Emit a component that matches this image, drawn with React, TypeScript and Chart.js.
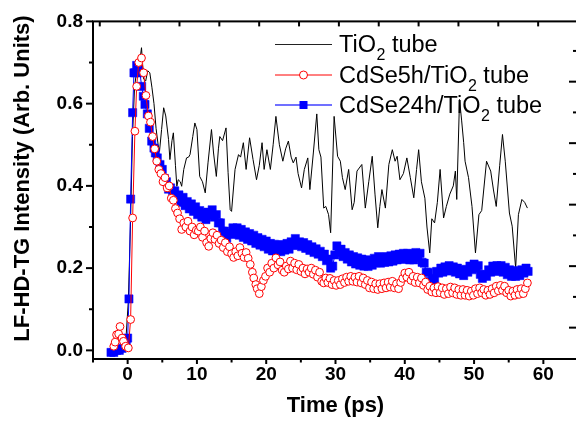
import React, { useEffect, useRef } from "react";
import { Chart, registerables } from "chart.js";

Chart.register(...registerables);

// ---------- data ----------
const tioX = [
  -2.2, -1.8, -1.4, -1.0, -0.6, -0.2, 0.1, 0.4, 0.7, 1.0, 1.3, 1.6, 1.8, 2.0, 2.3, 2.6, 2.9, 3.2, 3.5, 3.8,
  4.1, 4.4, 4.6, 4.9, 5.2, 5.5, 5.9, 6.1, 6.4, 6.6, 6.9, 7.1, 7.3, 7.6, 7.8, 8.1, 8.5, 8.8, 9.0, 9.4,
  9.7, 10.0, 10.4, 10.8, 11.2, 11.6, 12.1, 12.4, 12.8, 13.1, 13.3, 13.7, 14.2, 14.5, 14.8, 15.0, 15.5, 16.0, 16.3, 16.7,
  17.1, 17.6, 18.1, 18.6, 19.0, 19.4, 19.7, 20.1, 20.6, 21.0, 21.4, 21.9, 22.4, 22.8, 23.2, 23.6, 23.9, 24.3, 24.6, 25.1,
  25.5, 26.0, 26.3, 26.8, 27.3, 27.6, 27.9, 28.3, 28.6, 29.0, 29.3, 29.8, 30.3, 30.7, 31.0, 31.4, 31.9, 32.4, 32.7, 33.1,
  33.8, 34.3, 34.8, 35.3, 35.7, 36.1, 36.4, 36.7, 37.2, 37.7, 38.2, 38.6, 38.9, 39.3, 39.8, 40.3, 40.8, 41.3, 41.7, 42.0,
  42.4, 42.9, 43.2, 43.6, 43.9, 44.3, 44.7, 45.1, 45.6, 46.0, 46.5, 47.0, 47.3, 47.5, 47.9, 48.2, 48.5, 48.7, 49.2, 49.7,
  50.2, 50.7, 51.1, 51.8, 52.4, 52.8, 53.2, 53.7, 54.1, 54.5, 55.1, 55.5, 56.0, 56.4, 56.9, 57.3, 57.7,
];
const tioY = [
  0.0, 0.005, 0.0, 0.01, 0.02, 0.04, 0.12, 0.3, 0.52, 0.64, 0.68, 0.67, 0.71, 0.736, 0.66, 0.655, 0.68, 0.675, 0.64, 0.6,
  0.54, 0.5, 0.484, 0.537, 0.59, 0.57, 0.513, 0.464, 0.51, 0.529, 0.45, 0.399, 0.415, 0.41, 0.399, 0.44, 0.468, 0.47, 0.476, 0.52,
  0.553, 0.537, 0.423, 0.41, 0.383, 0.456, 0.537, 0.48, 0.423, 0.49, 0.52, 0.51, 0.541, 0.432, 0.342, 0.338, 0.44, 0.476, 0.47, 0.505,
  0.44, 0.517, 0.464, 0.415, 0.45, 0.505, 0.44, 0.488, 0.44, 0.5, 0.569, 0.5, 0.46, 0.49, 0.509, 0.47, 0.456, 0.47, 0.43, 0.395,
  0.44, 0.468, 0.391, 0.48, 0.575, 0.488, 0.47, 0.346, 0.35, 0.33, 0.286, 0.569, 0.472, 0.46, 0.42, 0.391, 0.44, 0.342, 0.36, 0.436,
  0.452, 0.346, 0.41, 0.472, 0.38, 0.298, 0.35, 0.391, 0.346, 0.452, 0.488, 0.46, 0.472, 0.415, 0.43, 0.468, 0.42, 0.371, 0.44, 0.488,
  0.41, 0.37, 0.3, 0.237, 0.32, 0.31, 0.36, 0.44, 0.322, 0.35, 0.38, 0.4, 0.436, 0.367, 0.61, 0.56, 0.505, 0.46, 0.42, 0.35,
  0.237, 0.33, 0.34, 0.46, 0.436, 0.39, 0.35, 0.45, 0.525, 0.46, 0.334, 0.302, 0.2, 0.33, 0.367, 0.36, 0.346,
];

const cd5X = [
  -2.0, -1.8, -1.6, -1.3, -1.1, -0.8, -0.6, -0.3, 0.1, 0.43, 0.72, 1.05, 1.3, 1.6, 2.0, 2.3, 2.64, 3.0, 3.3, 3.6,
  3.9, 4.2, 4.5, 4.8, 5.1, 5.4, 5.7, 6.0, 6.3, 6.6, 6.9, 7.2, 7.5, 7.8, 8.1, 8.4, 8.7, 9.0, 9.3, 9.6,
  9.9, 10.2, 10.5, 10.8, 11.1, 11.4, 11.7, 12.0, 12.3, 12.6, 12.9, 13.2, 13.5, 13.8, 14.1, 14.4, 14.7, 15.0, 15.3, 15.6,
  15.9, 16.2, 16.5, 16.8, 17.1, 17.4, 17.7, 18.0, 18.2, 18.5, 18.7, 19.0, 19.3, 19.6, 19.9, 20.2, 20.5, 20.8, 21.1, 21.4,
  21.7, 22.0, 22.3, 22.6, 22.9, 23.2, 23.5, 23.8, 24.1, 24.4, 24.7, 25.0, 25.3, 25.6, 25.9, 26.2, 26.5, 26.8, 27.1, 27.4,
  27.7, 28.0, 28.3, 28.6, 28.9, 29.2, 29.5, 29.8, 30.1, 30.4, 30.7, 31.0, 31.3, 31.6, 31.9, 32.2, 32.5, 32.8, 33.1, 33.4,
  33.7, 34.0, 34.3, 34.6, 34.9, 35.2, 35.5, 35.8, 36.1, 36.4, 36.7, 37.0, 37.3, 37.6, 37.9, 38.2, 38.5, 38.8, 39.1, 39.4,
  39.7, 40.0, 40.3, 40.6, 40.9, 41.2, 41.5, 41.8, 42.1, 42.4, 42.7, 43.0, 43.3, 43.6, 43.9, 44.2, 44.5, 44.8, 45.1, 45.4,
  45.7, 46.0, 46.3, 46.6, 46.9, 47.2, 47.5, 47.8, 48.1, 48.4, 48.7, 49.0, 49.3, 49.6, 49.9, 50.2, 50.5, 50.8, 51.1, 51.4,
  51.7, 52.0, 52.3, 52.6, 52.9, 53.2, 53.5, 53.8, 54.1, 54.4, 54.7, 55.0, 55.3, 55.6, 55.9, 56.2, 56.5, 56.8, 57.1, 57.4,
  57.7,
];
const cd5Y = [
  0.01, 0.02, 0.038, 0.04, 0.058, 0.03, 0.022, 0.01, 0.006, 0.075, 0.322, 0.533, 0.642, 0.7, 0.711, 0.675, 0.62, 0.57, 0.555, 0.52,
  0.49, 0.46, 0.44, 0.43, 0.41, 0.42, 0.395, 0.4, 0.37, 0.365, 0.345, 0.334, 0.32, 0.294, 0.31, 0.3, 0.314, 0.29, 0.3, 0.281,
  0.292, 0.29, 0.3, 0.275, 0.29, 0.262, 0.253, 0.272, 0.286, 0.27, 0.28, 0.26, 0.268, 0.25, 0.262, 0.24, 0.252, 0.235, 0.226, 0.24,
  0.23, 0.25, 0.236, 0.226, 0.238, 0.224, 0.209, 0.19, 0.176, 0.16, 0.15, 0.138, 0.155, 0.17, 0.18, 0.2, 0.19, 0.212, 0.2, 0.225,
  0.208, 0.215, 0.195, 0.19, 0.205, 0.198, 0.217, 0.2, 0.212, 0.196, 0.209, 0.192, 0.2, 0.186, 0.198, 0.19, 0.2, 0.185, 0.195, 0.178,
  0.19, 0.168, 0.164, 0.176, 0.165, 0.175, 0.16, 0.17, 0.158, 0.17, 0.16, 0.174, 0.165, 0.178, 0.168, 0.18, 0.168, 0.178, 0.166, 0.18,
  0.164, 0.176, 0.16, 0.17, 0.152, 0.166, 0.15, 0.162, 0.148, 0.162, 0.15, 0.164, 0.152, 0.166, 0.154, 0.168, 0.152, 0.162, 0.15, 0.165,
  0.175, 0.188, 0.178, 0.19, 0.17, 0.18, 0.165, 0.178, 0.164, 0.176, 0.158, 0.166, 0.148, 0.156, 0.142, 0.152, 0.14, 0.155, 0.14, 0.152,
  0.136, 0.15, 0.138, 0.154, 0.14, 0.152, 0.136, 0.148, 0.134, 0.148, 0.134, 0.146, 0.132, 0.144, 0.134, 0.15, 0.138, 0.152, 0.14, 0.148,
  0.134, 0.146, 0.136, 0.15, 0.14, 0.156, 0.145, 0.158, 0.146, 0.156, 0.14, 0.146, 0.132, 0.144, 0.134, 0.148, 0.136, 0.15, 0.138, 0.15,
  0.164,
];

const cd24X = [
  -2.4, -2.0, -1.6, -1.2, -0.8, -0.5, -0.2, 0.0, 0.19, 0.43, 0.72, 0.91, 1.1, 1.3, 1.55, 1.78, 2.02, 2.26, 2.5, 2.84,
  3.12, 3.47, 3.8, 4.0, 4.28, 4.67, 5.0, 5.3, 5.6, 5.9, 6.2, 6.5, 6.8, 7.1, 7.4, 7.7, 8.0, 8.3, 8.6, 8.9,
  9.2, 9.5, 9.8, 10.1, 10.4, 10.7, 11.0, 11.3, 11.6, 11.9, 12.2, 12.5, 12.8, 13.1, 13.4, 13.7, 14.0, 14.3, 14.6, 14.9,
  15.2, 15.5, 15.8, 16.1, 16.4, 16.7, 17.0, 17.3, 17.6, 17.9, 18.2, 18.5, 18.8, 19.1, 19.4, 19.7, 20.0, 20.3, 20.6, 20.9,
  21.2, 21.5, 21.8, 22.1, 22.4, 22.7, 23.0, 23.3, 23.6, 23.9, 24.2, 24.5, 24.8, 25.1, 25.4, 25.7, 26.0, 26.3, 26.6, 26.9,
  27.2, 27.5, 27.8, 28.1, 28.4, 28.7, 29.0, 29.3, 29.6, 29.9, 30.2, 30.5, 30.8, 31.1, 31.4, 31.7, 32.0, 32.3, 32.6, 32.9,
  33.2, 33.5, 33.8, 34.1, 34.4, 34.7, 35.0, 35.3, 35.6, 35.9, 36.2, 36.5, 36.8, 37.1, 37.4, 37.7, 38.0, 38.3, 38.6, 38.9,
  39.2, 39.5, 39.8, 40.1, 40.4, 40.7, 41.0, 41.3, 41.6, 41.9, 42.2, 42.5, 42.8, 43.1, 43.4, 43.7, 44.0, 44.3, 44.6, 44.9,
  45.2, 45.5, 45.8, 46.1, 46.4, 46.7, 47.0, 47.3, 47.6, 47.9, 48.2, 48.5, 48.8, 49.1, 49.4, 49.7, 50.0, 50.3, 50.6, 50.9,
  51.2, 51.5, 51.8, 52.1, 52.4, 52.7, 53.0, 53.3, 53.6, 53.9, 54.2, 54.5, 54.8, 55.1, 55.4, 55.7, 56.0, 56.3, 56.6, 56.9,
  57.2, 57.5, 57.8,
];
const cd24Y = [
  -0.005, -0.005, 0.0, 0.0, 0.005, 0.01, 0.02, 0.03, 0.125, 0.368, 0.578, 0.675, 0.675, 0.693, 0.69, 0.675, 0.642, 0.618, 0.598, 0.575,
  0.54, 0.509, 0.492, 0.48, 0.468, 0.452, 0.44, 0.418, 0.41, 0.392, 0.395, 0.38, 0.388, 0.368, 0.378, 0.36, 0.372, 0.352, 0.362, 0.344,
  0.356, 0.338, 0.349, 0.33, 0.34, 0.324, 0.334, 0.318, 0.336, 0.328, 0.342, 0.324, 0.33, 0.31, 0.31, 0.29, 0.29, 0.272, 0.285, 0.282,
  0.298, 0.284, 0.298, 0.28, 0.294, 0.275, 0.288, 0.27, 0.284, 0.266, 0.28, 0.26, 0.274, 0.256, 0.27, 0.252, 0.266, 0.246, 0.26, 0.242,
  0.258, 0.241, 0.256, 0.24, 0.257, 0.244, 0.26, 0.246, 0.264, 0.255, 0.272, 0.256, 0.264, 0.252, 0.262, 0.248, 0.257, 0.243, 0.252, 0.238,
  0.247, 0.234, 0.241, 0.228, 0.234, 0.218, 0.222, 0.2, 0.205, 0.232, 0.254, 0.238, 0.246, 0.228, 0.238, 0.222, 0.232, 0.215, 0.228, 0.21,
  0.225, 0.207, 0.222, 0.205, 0.22, 0.204, 0.219, 0.207, 0.224, 0.213, 0.228, 0.212, 0.226, 0.214, 0.228, 0.215, 0.23, 0.217, 0.232, 0.22,
  0.234, 0.222, 0.236, 0.222, 0.236, 0.22, 0.235, 0.22, 0.238, 0.226, 0.236, 0.214, 0.212, 0.19, 0.19, 0.168, 0.175, 0.17, 0.192, 0.188,
  0.2, 0.19, 0.203, 0.193, 0.206, 0.194, 0.203, 0.19, 0.2, 0.186, 0.195, 0.182, 0.197, 0.19, 0.205, 0.196, 0.21, 0.2, 0.206, 0.185,
  0.175, 0.184, 0.18, 0.196, 0.19, 0.205, 0.192, 0.206, 0.194, 0.206, 0.19, 0.202, 0.184, 0.196, 0.18, 0.194, 0.18, 0.192, 0.182, 0.196,
  0.188, 0.2, 0.192,
];

// ---------- axes / ticks ----------
const xTickValues = [0, 10, 20, 30, 40, 50, 60];
const xMinorValues = [-5, 5, 15, 25, 35, 45, 55, 65];
const yTickValues = [0, 0.2, 0.4, 0.6, 0.8];
const yMinorValues = [0.1, 0.3, 0.5, 0.7];
const topTickValues = [0, 1, 2, 3, 4, 5, 6, 7, 8, 9, 10, 11, 12];
const rightMajorValues = [0, 1, 2, 3, 4];
const rightMinorValues = [0.5, 1.5, 2.5, 3.5, 4.5];

const legendItems = [
  { pre: "TiO", post: " tube", kind: "line" },
  { pre: "CdSe5h/TiO", post: " tube", kind: "circle" },
  { pre: "CdSe24h/TiO", post: " tube", kind: "square" },
];

const FONT = "'Liberation Sans', Arial, Helvetica, sans-serif";

const toPts = (xs: number[], ys: number[]) => xs.map((x, i) => ({ x, y: ys[i] }));

const framePlugin = {
  id: "frameAndLegend",
  afterDraw(chart: any) {
    const { ctx, chartArea: a, scales } = chart;
    const { x, y, x2, y2 } = scales;
    ctx.save();
    ctx.strokeStyle = "#000";
    ctx.lineWidth = 2;
    ctx.strokeRect(a.left, a.top, a.right - a.left, a.bottom - a.top);
    const seg = (x1: number, y1: number, xx: number, yy: number) => {
      ctx.beginPath();
      ctx.moveTo(x1, y1);
      ctx.lineTo(xx, yy);
      ctx.stroke();
    };
    // bottom
    xTickValues.forEach((v) => { const p = x.getPixelForValue(v); seg(p, a.bottom, p, a.bottom + 5); });
    xMinorValues.forEach((v) => { const p = x.getPixelForValue(v); seg(p, a.bottom, p, a.bottom + 3.5); });
    // left
    yTickValues.forEach((v) => { const p = y.getPixelForValue(v); seg(a.left, p, a.left - 7, p); });
    yMinorValues.forEach((v) => { const p = y.getPixelForValue(v); seg(a.left, p, a.left - 4, p); });
    // top (inward)
    topTickValues.forEach((v) => { const p = x2.getPixelForValue(v); seg(p, a.top, p, a.top + 5); });
    // right (inward)
    rightMajorValues.forEach((v) => { const p = y2.getPixelForValue(v); seg(a.right, p, a.right - 9, p); });
    rightMinorValues.forEach((v) => { const p = y2.getPixelForValue(v); seg(a.right, p, a.right - 5, p); });

    // y title
    ctx.save();
    ctx.translate(22.5, 178.5);
    ctx.rotate(-Math.PI / 2);
    ctx.fillStyle = "#000";
    ctx.font = `bold 22px ${FONT}`;
    ctx.textAlign = "center";
    ctx.textBaseline = "middle";
    ctx.fillText("LF-HD-TG Intensity (Arb. Units)", 0, 0);
    ctx.restore();

    // legend
    const rowsY = [44, 74.5, 105];
    const lx1 = 275, lx2 = 332, tx = 339;
    const fs = 23.5, sfs = 16;
    legendItems.forEach((it, i) => {
      const ry = rowsY[i];
      ctx.lineWidth = 1;
      if (it.kind === "line") {
        ctx.strokeStyle = "#222";
        seg(lx1, ry + 0.5, lx2, ry + 0.5);
      } else if (it.kind === "circle") {
        ctx.strokeStyle = "#ff0000";
        seg(lx1, ry + 0.5, lx2, ry + 0.5);
        ctx.beginPath();
        ctx.arc((lx1 + lx2) / 2, ry + 0.5, 4, 0, Math.PI * 2);
        ctx.fillStyle = "#fff";
        ctx.fill();
        ctx.stroke();
      } else {
        ctx.strokeStyle = "#7070ff";
        ctx.lineWidth = 2;
        seg(lx1, ry, lx2, ry);
        ctx.fillStyle = "#0000ff";
        ctx.fillRect((lx1 + lx2) / 2 - 4, ry - 4, 8, 8);
      }
      ctx.fillStyle = "#000";
      ctx.textAlign = "left";
      ctx.textBaseline = "alphabetic";
      const base = ry + fs * 0.716 / 2;
      ctx.font = `${fs}px ${FONT}`;
      ctx.fillText(it.pre, tx, base);
      let cx = tx + ctx.measureText(it.pre).width;
      ctx.font = `${sfs}px ${FONT}`;
      ctx.fillText("2", cx + 0.5, base + 8);
      cx += ctx.measureText("2").width + 0.5;
      ctx.font = `${fs}px ${FONT}`;
      ctx.fillText(it.post, cx, base);
    });
    ctx.restore();
  },
};

export default function App() {
  const ref = useRef<HTMLCanvasElement | null>(null);
  useEffect(() => {
    if (!ref.current) return;
    const chart = new Chart(ref.current, {
      type: "scatter",
      data: {
        datasets: [
          {
            label: "CdSe5h/TiO2 tube",
            data: toPts(cd5X, cd5Y),
            showLine: true,
            borderColor: "#ff0000",
            borderWidth: 1,
            backgroundColor: "#ffffff",
            pointStyle: "circle",
            pointRadius: 3.9,
            pointBorderWidth: 1,
            pointBorderColor: "#ff0000",
            pointBackgroundColor: "#ffffff",
            order: 0,
          },
          {
            label: "CdSe24h/TiO2 tube",
            data: toPts(cd24X, cd24Y),
            showLine: true,
            borderColor: "#0000ff",
            borderWidth: 1,
            backgroundColor: "#0000ff",
            pointStyle: "rect",
            pointRadius: 5.8,
            pointBorderWidth: 0.5,
            pointBorderColor: "#0000ff",
            pointBackgroundColor: "#0000ff",
            order: 1,
          },
          {
            label: "TiO2 tube",
            data: toPts(tioX, tioY),
            showLine: true,
            borderColor: "#000000",
            borderWidth: 1,
            pointRadius: 0,
            order: 2,
          },
        ],
      },
      options: {
        animation: false,
        responsive: false,
        devicePixelRatio: 1,
        layout: { padding: { top: 21, right: 22, left: 0, bottom: 0 } },
        plugins: { legend: { display: false }, tooltip: { enabled: false } },
        elements: { line: { tension: 0 } },
        scales: {
          x: {
            type: "linear",
            position: "bottom",
            min: -5,
            max: 65,
            afterBuildTicks: (s: any) => { s.ticks = xTickValues.map((v) => ({ value: v })); },
            afterFit: (s: any) => { s.height = 64; },
            grid: { display: false, drawTicks: false },
            border: { display: false },
            ticks: {
              color: "#000",
              font: { family: FONT, size: 19, weight: "bold" },
              padding: 4,
              maxRotation: 0,
              callback: (v: any) => String(v),
            },
            title: {
              display: true,
              text: "Time (ps)",
              color: "#000",
              font: { family: FONT, size: 22, weight: "bold" },
              padding: { top: 0, bottom: 4 },
            },
          },
          y: {
            type: "linear",
            position: "left",
            min: -0.021,
            max: 0.8,
            afterBuildTicks: (s: any) => { s.ticks = yTickValues.map((v) => ({ value: v })); },
            afterFit: (s: any) => { s.width = 93; },
            grid: { display: false, drawTicks: false },
            border: { display: false },
            ticks: {
              color: "#000",
              font: { family: FONT, size: 19, weight: "bold" },
              padding: 10,
              callback: (v: any) => Number(v).toFixed(1),
            },
          },
          x2: {
            type: "linear",
            position: "top",
            display: false,
            min: -0.17,
            max: 12.0,
          },
          y2: {
            type: "linear",
            position: "right",
            display: false,
            min: -0.51,
            max: 4.98,
          },
        },
      },
      plugins: [framePlugin],
    } as any);
    return () => chart.destroy();
  }, []);

  return (
    <div style={{ position: "fixed", left: 0, top: 0, width: 576, height: 423, overflow: "hidden", background: "#fff" }}>
      <canvas ref={ref} width={600} height={423} style={{ display: "block", width: 600, height: 423 }} />
    </div>
  );
}
